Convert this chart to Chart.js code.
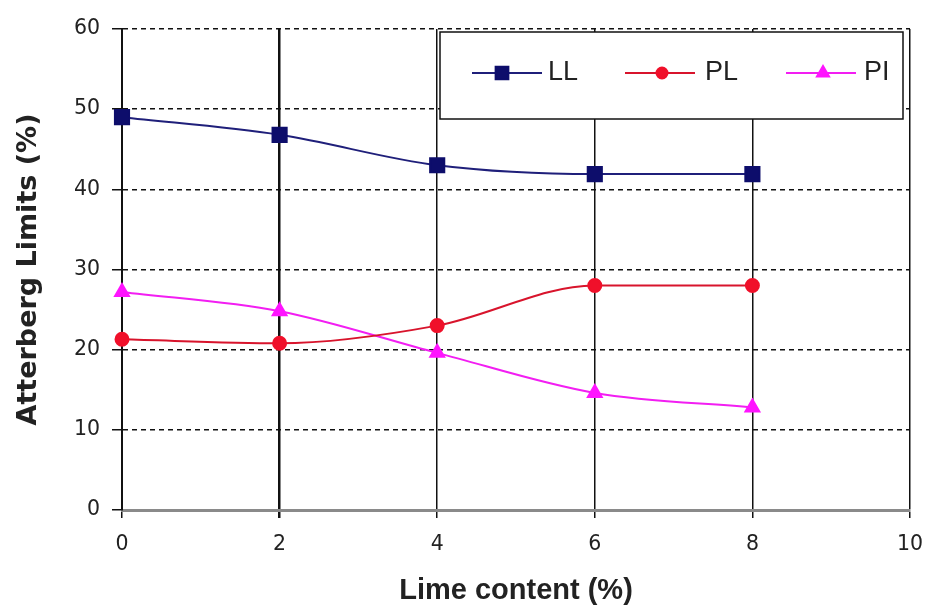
<!DOCTYPE html>
<html>
<head>
<meta charset="utf-8">
<script src="https://cdn.jsdelivr.net/npm/chart.js@4.4.1/dist/chart.umd.min.js"></script>
<style>
  html, body { margin: 0; padding: 0; background: #fff; }
  #wrap { width: 928px; height: 605px; }
</style>
</head>
<body>
<div id="wrap"><canvas id="chart" width="928" height="605"></canvas></div>
<script>
// lime content (%) and the three Atterberg limits
var limeContent = [0, 2, 4, 6, 8];
var liquidLimit = [49, 46.8, 43, 41.9, 41.9];
var plasticLimit = [21.3, 20.8, 23, 28, 28];
var plasticityIndex = [27.2, 24.8, 19.6, 14.6, 12.8];
var seriesNames = ['LL', 'PL', 'PI'];

var textColor = '#222';
var arial = 'Arial, "Liberation Sans", sans-serif';
var wide = '"DejaVu Sans", sans-serif';

function toPoints(values) {
    return values.map(function (v, i) { return {x: limeContent[i], y: v}; });
}

// boxed legend drawn inside the plot, top right
var boxLegend = {
    id: 'boxLegend',
    afterDraw: function (chart) {
        var ctx = chart.ctx;
        var x0 = 440, y0 = 32, x1 = 903, y1 = 119;
        ctx.save();
        ctx.fillStyle = '#fff';
        ctx.fillRect(x0, y0, x1 - x0, y1 - y0);
        ctx.strokeStyle = '#111';
        ctx.lineWidth = 1.5;
        ctx.strokeRect(x0, y0, x1 - x0, y1 - y0);

        var starts = [472, 625, 786];
        var markerAt = [30, 37, 37];
        var textAt = [76, 80, 78];
        var cy = 73;
        chart.data.datasets.forEach(function (ds, i) {
            var sx = starts[i];
            ctx.strokeStyle = ds.borderColor;
            ctx.lineWidth = 2;
            ctx.beginPath();
            ctx.moveTo(sx, cy);
            ctx.lineTo(sx + 70, cy);
            ctx.stroke();
            ctx.fillStyle = ds.pointBackgroundColor;
            ctx.strokeStyle = ds.pointBorderColor;
            Chart.helpers.drawPoint(ctx, {
                pointStyle: ds.pointStyle,
                radius: ds.pointRadius - 1,
                borderWidth: 1,
                rotation: 0
            }, sx + markerAt[i], cy);
            ctx.fillStyle = textColor;
            ctx.font = '27px ' + arial;
            ctx.textBaseline = 'middle';
            ctx.textAlign = 'left';
            ctx.fillText(ds.label, sx + textAt[i], cy);
        });
        ctx.restore();
    }
};

new Chart(document.getElementById('chart').getContext('2d'), {
    type: 'line',
    data: {
        datasets: [{
            label: seriesNames[0],
            data: toPoints(liquidLimit),
            borderColor: '#1f1f7a',
            borderWidth: 2,
            pointStyle: 'rect',
            pointRadius: 10,
            pointBackgroundColor: '#0d0d6b',
            pointBorderColor: '#0d0d6b',
            cubicInterpolationMode: 'monotone',
            clip: false
        }, {
            label: seriesNames[1],
            data: toPoints(plasticLimit),
            borderColor: '#d8142c',
            borderWidth: 2,
            pointStyle: 'circle',
            pointRadius: 6.5,
            pointBackgroundColor: '#f0102a',
            pointBorderColor: '#f0102a',
            cubicInterpolationMode: 'monotone',
            clip: false
        }, {
            label: seriesNames[2],
            data: toPoints(plasticityIndex),
            borderColor: '#f21ef2',
            borderWidth: 2,
            pointStyle: 'triangle',
            pointRadius: 8,
            pointBackgroundColor: '#ff14ff',
            pointBorderColor: '#ff14ff',
            cubicInterpolationMode: 'monotone',
            clip: false
        }]
    },
    options: {
        responsive: false,
        animation: false,
        layout: {padding: {top: 29, right: 18, bottom: 0, left: 0}},
        plugins: {
            legend: {display: false},
            tooltip: {enabled: false}
        },
        scales: {
            x: {
                type: 'linear',
                min: 0,
                max: 10,
                afterFit: function (scale) {
                    scale.height = 95;
                    scale.paddingLeft = 0;
                    scale.paddingRight = 0;
                },
                ticks: {
                    stepSize: 2,
                    color: textColor,
                    padding: 14,
                    font: {size: 20.5, family: wide}
                },
                grid: {
                    color: '#111',
                    lineWidth: function (c) { return c.tick && c.tick.value === 2 ? 2.5 : 1.5; },
                    tickLength: 8
                },
                border: {display: true, color: '#8a8a8a', width: 3},
                title: {
                    display: true,
                    text: 'Lime content (%)',
                    color: textColor,
                    padding: {top: 0, bottom: 0},
                    font: {size: 29, weight: 'bold', family: arial, lineHeight: 1}
                }
            },
            y: {
                min: 0,
                max: 60,
                afterFit: function (scale) {
                    scale.width = 122;
                    scale.paddingTop = 0;
                    scale.paddingBottom = 0;
                },
                ticks: {
                    stepSize: 10,
                    color: textColor,
                    padding: 12,
                    font: {size: 20.5, family: wide}
                },
                grid: {
                    color: '#111',
                    lineWidth: 1.5,
                    tickLength: 10
                },
                border: {display: true, color: '#111', width: 2, dash: [5, 4]},
                title: {
                    display: true,
                    text: 'Atterberg Limits (%)',
                    color: textColor,
                    padding: {top: 15, bottom: 0},
                    font: {size: 27, weight: 'bold', family: wide, lineHeight: 1}
                }
            }
        }
    },
    plugins: [boxLegend]
});
</script>
</body>
</html>
